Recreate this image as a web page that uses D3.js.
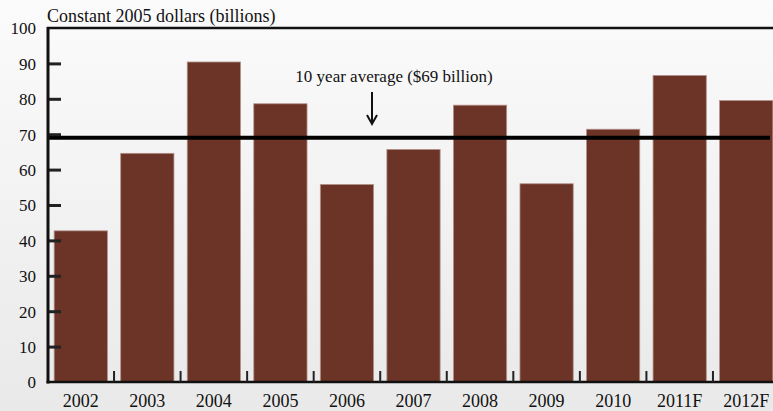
<!DOCTYPE html>
<html>
<head>
<meta charset="utf-8">
<script src="https://cdn.jsdelivr.net/npm/d3@7"></script>
<style>
html,body{margin:0;padding:0;}
body{width:773px;height:411px;overflow:hidden;}
svg{display:block;font-family:"Liberation Serif","Times New Roman",serif;}
</style>
</head>
<body>
<svg id="chart" width="773" height="411"></svg>
<script>
const categories = ["2002","2003","2004","2005","2006","2007","2008","2009","2010","2011F","2012F"];
const values = [42.7, 64.6, 90.4, 78.6, 55.8, 65.7, 78.2, 56.0, 71.4, 86.6, 79.5];
const yTicks = [0,10,20,30,40,50,60,70,80,90,100];
const average = 69;
const titleText = "Constant 2005 dollars (billions)";
const avgLabel = "10 year average ($69 billion)";

const W = 773, H = 411;
const svg = d3.select("#chart");

const defs = svg.append("defs");
const grad = defs.append("linearGradient").attr("id","bg").attr("x1",0).attr("y1",0).attr("x2",0).attr("y2",1);
grad.append("stop").attr("offset","0%").attr("stop-color","#fbfbfb");
grad.append("stop").attr("offset","100%").attr("stop-color","#e9e9e9");
svg.append("rect").attr("width",W).attr("height",H).attr("fill","url(#bg)");

const x = d3.scaleBand().domain(categories).range([47.5, 779.5]).paddingInner(0.2).paddingOuter(0.1);
const y = d3.scaleLinear().domain([0,100]).range([382, 28]);

// bars
svg.append("g").selectAll("rect").data(values).join("rect")
  .attr("x",(d,i)=>x(categories[i]))
  .attr("width",x.bandwidth())
  .attr("y",d=>y(d))
  .attr("height",d=>y(0)-y(d))
  .attr("fill","#6b3427")
  .attr("stroke","#b4918a")
  .attr("stroke-width",0.8);

// top frame line
svg.append("line").attr("x1",47).attr("x2",W).attr("y1",y(100)).attr("y2",y(100))
  .attr("stroke","#111").attr("stroke-width",2.5);

// average line
svg.append("line").attr("x1",47).attr("x2",770).attr("y1",y(average)).attr("y2",y(average))
  .attr("stroke","#000").attr("stroke-width",4);

// y axis
const yAxis = d3.axisLeft(y).tickValues(yTicks).tickSize(0).tickPadding(0);
const gy = svg.append("g").attr("transform","translate(48,0)").call(yAxis);
gy.select(".domain").remove();
gy.selectAll(".tick text").attr("x",-12).attr("dy","0.35em")
  .attr("font-size",17).attr("fill","#111").attr("font-family","Liberation Serif, serif");
gy.selectAll(".tick").filter(d=>d>0 && d<100).append("line")
  .attr("x1",0).attr("x2",13).attr("stroke","#222").attr("stroke-width",3);
svg.append("line").attr("x1",48).attr("x2",48).attr("y1",y(100)-1).attr("y2",y(0)+1.5)
  .attr("stroke","#111").attr("stroke-width",3);

// x axis
const xAxis = d3.axisBottom(x).tickSize(0).tickPadding(0);
const gx = svg.append("g").attr("transform",`translate(0,${y(0)})`).call(xAxis);
gx.select(".domain").remove();
gx.selectAll(".tick text").attr("y",19).attr("dy","0.35em")
  .attr("font-size",18).attr("fill","#111").attr("font-family","Liberation Serif, serif");
svg.append("line").attr("x1",46.5).attr("x2",W).attr("y1",y(0)).attr("y2",y(0))
  .attr("stroke","#111").attr("stroke-width",2.5);
svg.append("g").selectAll("line").data(categories.slice(1)).join("line")
  .attr("x1",d=>x(d)-x.step()*x.paddingInner()/2)
  .attr("x2",d=>x(d)-x.step()*x.paddingInner()/2)
  .attr("y1",y(0)).attr("y2",y(0)-11)
  .attr("stroke","#222").attr("stroke-width",2);

// title
svg.append("text").attr("x",47).attr("y",22).attr("font-size",18).attr("fill","#111")
  .text(titleText);

// annotation
svg.append("text").attr("x",394).attr("y",82).attr("text-anchor","middle")
  .attr("font-size",17).attr("fill","#111").text(avgLabel);
const ax = 372;
svg.append("line").attr("x1",ax).attr("x2",ax).attr("y1",92).attr("y2",122)
  .attr("stroke","#111").attr("stroke-width",2);
svg.append("path").attr("d",`M${ax-5},${115} L${ax},${124} L${ax+5},${115}`)
  .attr("fill","none").attr("stroke","#111").attr("stroke-width",2);
</script>
</body>
</html>
